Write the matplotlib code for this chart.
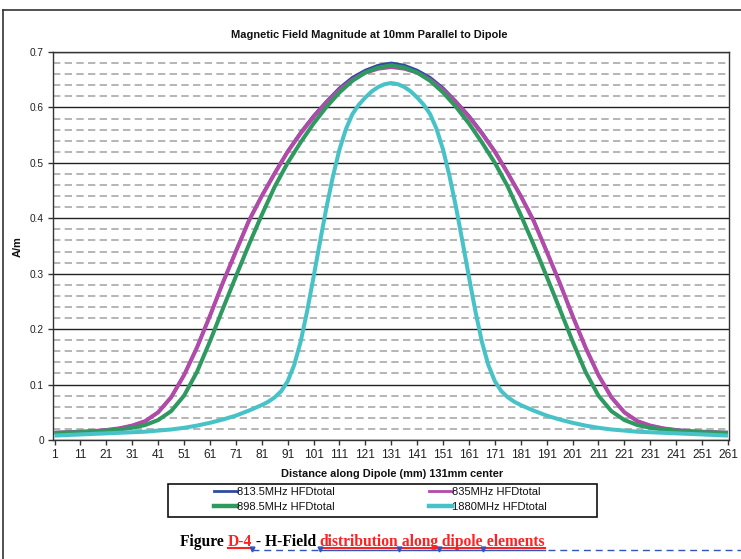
import matplotlib
matplotlib.use('Agg')
import matplotlib.pyplot as plt
from matplotlib.lines import Line2D
from matplotlib.patches import Rectangle
import numpy as np

# ---------------- data ----------------
distance_mm = [1, 6, 11, 16, 21, 26, 31, 36, 41, 46, 51, 56, 61, 66, 71, 76, 81, 86, 91, 96,
               101, 106, 111, 116, 121, 126, 131, 136, 141, 146, 151, 156, 161, 166, 171,
               176, 181, 186, 191, 196, 201, 206, 211, 216, 221, 226, 231, 236, 241, 246,
               251, 256, 261]

h_813 = [0.013, 0.014, 0.015, 0.016, 0.018, 0.021, 0.026, 0.034, 0.050, 0.077, 0.117, 0.167,
         0.224, 0.284, 0.341, 0.396, 0.441, 0.482, 0.521, 0.555, 0.585, 0.611, 0.635, 0.654,
         0.667, 0.676, 0.680, 0.676, 0.667, 0.654, 0.635, 0.611, 0.585, 0.555, 0.521, 0.482,
         0.441, 0.396, 0.341, 0.284, 0.224, 0.167, 0.117, 0.077, 0.050, 0.034, 0.026, 0.021,
         0.018, 0.016, 0.015, 0.014, 0.013]

h_835 = [0.013, 0.014, 0.015, 0.016, 0.018, 0.021, 0.026, 0.034, 0.050, 0.077, 0.117, 0.167,
         0.224, 0.284, 0.340, 0.395, 0.440, 0.481, 0.520, 0.553, 0.583, 0.609, 0.632, 0.650,
         0.663, 0.670, 0.673, 0.670, 0.663, 0.650, 0.632, 0.609, 0.583, 0.553, 0.520, 0.481,
         0.440, 0.395, 0.340, 0.284, 0.224, 0.167, 0.117, 0.077, 0.050, 0.034, 0.026, 0.021,
         0.018, 0.016, 0.015, 0.014, 0.013]

h_898 = [0.013, 0.0135, 0.014, 0.015, 0.017, 0.019, 0.022, 0.027, 0.036, 0.052, 0.080, 0.123,
         0.178, 0.237, 0.295, 0.352, 0.406, 0.457, 0.500, 0.537, 0.571, 0.601, 0.627, 0.648,
         0.663, 0.672, 0.676, 0.672, 0.663, 0.648, 0.627, 0.601, 0.571, 0.537, 0.500, 0.457,
         0.406, 0.352, 0.295, 0.237, 0.178, 0.123, 0.080, 0.052, 0.036, 0.027, 0.022, 0.019,
         0.017, 0.015, 0.014, 0.0135, 0.013]

distance_mm_1880 = [1, 6, 11, 16, 21, 26, 31, 36, 41, 46, 51, 56, 61, 66, 71, 76, 81, 83.5,
                    86, 88.5, 91, 93.5, 96, 98.5, 101, 103.5, 106, 108.5, 111, 113.5, 116,
                    118.5, 121, 123.5, 126, 128.5, 131, 133.5, 136, 138.5, 141, 143.5, 146,
                    148.5, 151, 153.5, 156, 158.5, 161, 163.5, 166, 168.5, 171, 173.5, 176,
                    178.5, 181, 186, 191, 196, 201, 206, 211, 216, 221, 226, 231, 236, 241,
                    246, 251, 256, 261]

h_1880 = [0.008, 0.009, 0.010, 0.011, 0.012, 0.013, 0.014, 0.015, 0.017, 0.019, 0.022, 0.026,
          0.031, 0.037, 0.044, 0.053, 0.063, 0.069, 0.077, 0.088, 0.106, 0.135, 0.177, 0.232,
          0.294, 0.358, 0.420, 0.476, 0.524, 0.561, 0.588, 0.605, 0.618, 0.629, 0.637, 0.642,
          0.644,
          0.642, 0.637, 0.629, 0.618, 0.605, 0.588, 0.561, 0.524, 0.476, 0.420, 0.358, 0.294,
          0.232, 0.177, 0.135, 0.106, 0.088, 0.077, 0.069, 0.063, 0.053, 0.044, 0.037, 0.031,
          0.026, 0.022, 0.019, 0.017, 0.015, 0.014, 0.013, 0.012, 0.011, 0.010, 0.009, 0.008]

series_labels = ["813.5MHz HFDtotal", "835MHz HFDtotal", "898.5MHz HFDtotal", "1880MHz HFDtotal"]
x_tick_values = list(range(1, 262, 10))
y_tick_labels = ["0", "0.1", "0.2", "0.3", "0.4", "0.5", "0.6", "0.7"]

title_text = "Magnetic Field Magnitude at 10mm Parallel to Dipole"
xlabel_text = "Distance along Dipole (mm) 131mm center"
ylabel_text = "A/m"

# ---------------- style ----------------
SANS = ['Liberation Sans', 'DejaVu Sans']
NARROW = ['Liberation Sans Narrow', 'Liberation Sans', 'DejaVu Sans']
SERIF = ['Liberation Serif', 'DejaVu Serif']
colors = ['#2f4aa0', '#b24aa9', '#2e9a60', '#47c3c8']
widths = [2.2, 2.9, 2.9, 2.9]

W, H = 741, 559
fig = plt.figure(figsize=(W / 100, H / 100), dpi=100)
fig.patch.set_facecolor('white')

def fx(px):
    return px / W

def fy(py):
    return 1 - py / H

ax = fig.add_axes([fx(53), fy(440), fx(729) - fx(53), fy(52) - fy(440)])

xs = [distance_mm, distance_mm, distance_mm, distance_mm_1880]
series = [h_813, h_835, h_898, h_1880]
for xv, vals, c, lw in zip(xs, series, colors, widths):
    ax.plot(xv, vals, color=c, lw=lw, solid_joinstyle='round', solid_capstyle='butt', zorder=3)

ax.set_xlim(0.4, 261.4)
ax.set_ylim(0, 0.7)
ax.set_yticks([0, 0.1, 0.2, 0.3, 0.4, 0.5, 0.6, 0.7])
ax.set_yticklabels(y_tick_labels, fontfamily=SANS, fontsize=7.3, color='#222222')
ax.set_yticks(np.arange(0.02, 0.7, 0.02), minor=True)
ax.set_xticks(x_tick_values)
ax.set_xticklabels([str(v) for v in x_tick_values], fontfamily=NARROW, fontsize=8.6, color='#222222')

ax.tick_params(axis='y', which='major', direction='out', length=3.5, width=1, color='#333333', pad=3)
ax.tick_params(axis='y', which='minor', length=0)
ax.tick_params(axis='x', which='major', direction='out', length=3.5, width=1, color='#333333', pad=3)

ax.set_axisbelow(True)
ax.yaxis.grid(True, which='major', color='#222222', lw=1.0, ls='-')
ax.yaxis.grid(True, which='minor', color='#a9a9a9', lw=1.2, ls=(0, (4.4, 2.6)))
for s in ax.spines.values():
    s.set_color('#333333')
    s.set_linewidth(1.0)

# texts
fig.text(fx(369), fy(34.5), title_text, ha='center', va='center', fontfamily=NARROW,
         fontweight='bold', fontsize=7.9, color='#111111')
fig.text(fx(392.5), fy(474), xlabel_text, ha='center', va='center', fontfamily=NARROW,
         fontweight='bold', fontsize=7.9, color='#111111')
fig.text(fx(18), fy(247), ylabel_text, ha='center', va='center', rotation=90, fontfamily=NARROW,
         fontweight='bold', fontsize=7.9, color='#111111')

# legend
leg_widths = [2.0, 2.0, 3.2, 3.2]
order = [0, 2, 1, 3]
handles = [Line2D([], [], color=colors[i], lw=leg_widths[i]) for i in order]
labels = [series_labels[i] for i in order]
leg = fig.legend(handles, labels, loc='center', bbox_to_anchor=(fx(380.5), fy(499.5)), ncol=2,
                 frameon=False, prop={'family': NARROW, 'size': 8.0}, handlelength=2.07,
                 handletextpad=0.05, columnspacing=8.45, labelspacing=0.45, borderpad=0.2)
for t in leg.get_texts():
    t.set_color('#111111')
fig.patches.append(Rectangle((fx(168), fy(517)), fx(597) - fx(168), fy(484) - fy(517),
                             transform=fig.transFigure, fill=False, ec='#111111', lw=1.2))

# outer frame (left and top edges visible)
fig.lines.append(Line2D([fx(3), fx(3)], [0, fy(9.5)], transform=fig.transFigure, color='#333333', lw=1.2))
fig.lines.append(Line2D([fx(3), 1], [fy(9.5), fy(9.5)], transform=fig.transFigure, color='#333333', lw=1.2))

# caption
caption_pieces = [("Figure ", 'black'), ("D-4", 'red'), (" - H-Field ", 'black'),
                  ("distribution", 'red'), (" along", 'red'), (" dipole", 'red'), (" elements", 'red')]
red_color = '#ff2020'
renderer = fig.canvas.get_renderer()
x = 180.0
base = 546.5
spans = []
for txt, col in caption_pieces:
    t = fig.text(fx(x), fy(base), txt, ha='left', va='baseline', fontfamily=SERIF,
                 fontweight='bold', fontsize=11.2, color=(red_color if col == 'red' else 'black'))
    bb = t.get_window_extent(renderer=renderer)
    spans.append((x, x + bb.width))
    x += bb.width

# red underlines
d4 = spans[1]
fig.lines.append(Line2D([fx(d4[0]), fx(d4[1])], [fy(548), fy(548)], transform=fig.transFigure, color=red_color, lw=1.5))
red_start = spans[3][0]
red_end = spans[-1][1]
fig.lines.append(Line2D([fx(red_start), fx(red_end)], [fy(547.8), fy(547.8)], transform=fig.transFigure, color=red_color, lw=1.5))
# blue tracked-change line
blue = '#3355bb'
fig.lines.append(Line2D([fx(d4[1]), fx(red_start)], [fy(549.5), fy(549.5)], transform=fig.transFigure,
                        color=blue, lw=1.0, ls=(0, (5, 3.5))))
fig.lines.append(Line2D([fx(red_start), fx(red_end)], [fy(549.5), fy(549.5)], transform=fig.transFigure,
                        color=blue, lw=1.0))
fig.lines.append(Line2D([fx(red_end + 3), 1], [fy(549.5), fy(549.5)], transform=fig.transFigure,
                        color=blue, lw=1.0, ls=(0, (5, 3.5))))
mark_x = [d4[1], spans[3][0], spans[4][0], spans[5][0], spans[6][0]]
fig.lines.append(Line2D([fx(m) for m in mark_x], [fy(548.5)] * len(mark_x), transform=fig.transFigure,
                        color=blue, lw=0, marker='v', markersize=3.5))

fig.savefig('out.png', dpi=100)
